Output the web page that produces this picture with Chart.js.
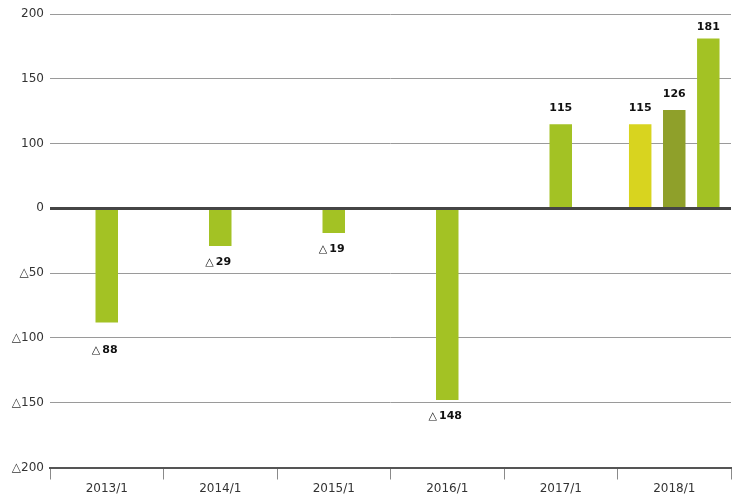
<!DOCTYPE html>
<html>
<head>
<meta charset="utf-8">
<script src="https://cdn.jsdelivr.net/npm/chart.js@4/dist/chart.umd.min.js"></script>
<style>
  body { margin: 0; background: #fff; }
  #wrap { width: 740px; height: 500px; }
</style>
</head>
<body>
<div id="wrap"><canvas id="chart"></canvas></div>
<script>
// data
var categories = ["2013/1", "2014/1", "2015/1", "2016/1", "2017/1", "2018/1"];
var results = [-88, -29, -19, -148, 115, 181];
var plan1 = [null, null, null, null, null, 115];
var plan2 = [null, null, null, null, null, 126];
var tickValues = [-200, -150, -100, -50, 0, 100, 150, 200];

// the axis is broken on the plus side: 0..100 takes one step, 100..200 two steps
function squash(v) {
    if (v <= 0) return v;
    if (v <= 100) return v / 2;
    return v - 50;
}
function unsquash(v) {
    if (v <= 0) return v;
    if (v <= 50) return v * 2;
    return v + 50;
}

class BrokenScale extends Chart.LinearScale {
    getPixelForValue(value) {
        return super.getPixelForValue(squash(value));
    }
    getValueForPixel(pixel) {
        return unsquash(super.getValueForPixel(pixel));
    }
}
BrokenScale.id = 'broken';
BrokenScale.defaults = Chart.LinearScale.defaults;
Chart.register(BrokenScale);

function fmt(v) {
    return v < 0 ? "\u25B3" + Math.abs(v) : String(v);
}

var zeroLine = {
    id: 'zeroLine',
    afterDatasetsDraw: function(chart) {
        var ctx = chart.ctx;
        var area = chart.chartArea;
        var y = Math.round(chart.scales.y.getPixelForValue(0)) + 0.5;
        ctx.save();
        ctx.strokeStyle = '#454545';
        ctx.lineWidth = 3;
        ctx.beginPath();
        ctx.moveTo(area.left, y);
        ctx.lineTo(area.right, y);
        ctx.stroke();
        ctx.restore();
    }
};

var valueLabels = {
    id: 'valueLabels',
    afterDatasetsDraw: function(chart) {
        var ctx = chart.ctx;
        var yScale = chart.scales.y;
        var gridYs = tickValues.map(function(t) { return yScale.getPixelForValue(t); });
        ctx.save();
        ctx.fillStyle = '#111';
        ctx.textBaseline = 'middle';
        chart.data.datasets.forEach(function(ds, di) {
            var meta = chart.getDatasetMeta(di);
            meta.data.forEach(function(bar, i) {
                var v = ds.data[i];
                if (v === null || v === undefined) return;
                var y;
                if (v >= 0) {
                    y = Math.max(bar.y - 16, chart.chartArea.top + 13);
                } else {
                    y = bar.y + 16;
                    gridYs.forEach(function(g) {
                        if (Math.abs(g - y) < 7) y = g + 12;
                    });
                }
                var num = String(Math.abs(v));
                ctx.font = 'bold 11px "DejaVu Sans"';
                var numW = ctx.measureText(num).width;
                if (v < 0) {
                    ctx.font = '11px "DejaVu Sans"';
                    var triW = ctx.measureText("\u25B3").width;
                    var gap = 2;
                    var x0 = bar.x - (triW + gap + numW) / 2 - 2;
                    ctx.textAlign = 'left';
                    ctx.fillText("\u25B3", x0, y);
                    ctx.font = 'bold 11px "DejaVu Sans"';
                    ctx.fillText(num, x0 + triW + gap, y);
                } else {
                    ctx.textAlign = 'center';
                    ctx.fillText(num, bar.x, y);
                }
            });
        });
        ctx.restore();
    }
};

var ctx = document.getElementById("chart").getContext('2d');
var myChart = new Chart(ctx, {
    type: 'bar',
    data: {
        labels: categories,
        datasets: [{
            label: 'plan1',
            data: plan1,
            backgroundColor: '#d8d41f'
        }, {
            label: 'plan2',
            data: plan2,
            backgroundColor: '#8fa02a'
        }, {
            label: 'results',
            data: results,
            backgroundColor: '#a3c224'
        }]
    },
    options: {
        responsive: true,
        maintainAspectRatio: false,
        animation: false,
        events: [],
        layout: {
            padding: { top: 14, right: 9, left: 0, bottom: 0 }
        },
        datasets: {
            bar: {
                skipNull: true,
                categoryPercentage: 0.9,
                barPercentage: 0.66,
                maxBarThickness: 22.5
            }
        },
        plugins: {
            legend: { display: false },
            tooltip: { enabled: false }
        },
        scales: {
            x: {
                grid: {
                    offset: true,
                    drawOnChartArea: false,
                    drawTicks: true,
                    tickLength: 12,
                    color: '#8a8a8a'
                },
                border: { display: true, color: '#555', width: 2 },
                ticks: {
                    color: '#333',
                    padding: 2,
                    font: { family: '"DejaVu Sans"', size: 12 }
                },
                afterFit: function(scale) { scale.height = 32.5; }
            },
            y: {
                type: 'broken',
                min: -200,
                max: 150,
                afterBuildTicks: function(scale) {
                    scale.ticks = tickValues.map(function(v) { return { value: v }; });
                },
                grid: {
                    drawTicks: false,
                    color: function(c) {
                        if (c.tick.value === 0 || c.tick.value === -200) return 'rgba(0,0,0,0)';
                        return '#9a9a9a';
                    }
                },
                border: { display: false },
                ticks: {
                    color: '#333',
                    padding: 6,
                    font: { family: '"DejaVu Sans"', size: 12 },
                    callback: function(v) { return fmt(v); }
                },
                afterFit: function(scale) { scale.width = 50; }
            }
        }
    },
    plugins: [zeroLine, valueLabels]
});
</script>
</body>
</html>
